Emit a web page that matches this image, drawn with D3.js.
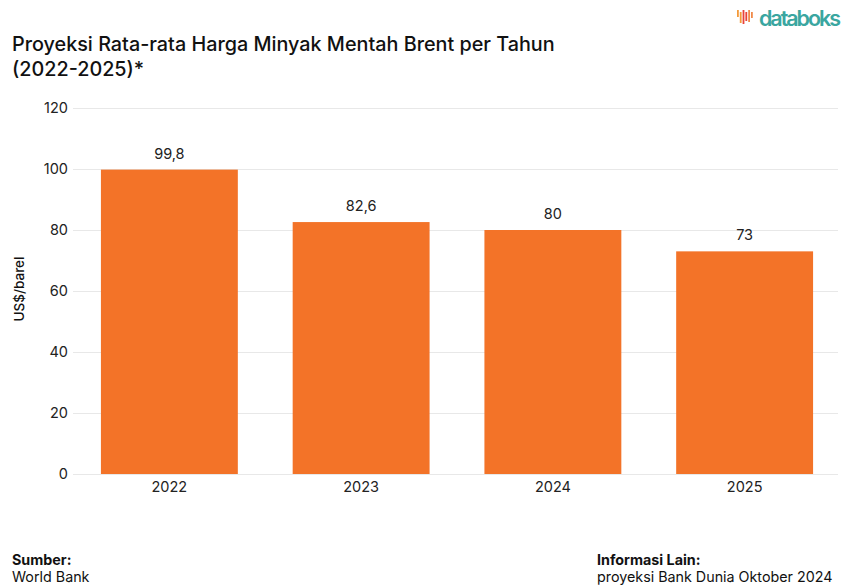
<!DOCTYPE html>
<html>
<head>
<meta charset="utf-8">
<script src="https://cdn.jsdelivr.net/npm/d3@7"></script>
<style>
  body { margin: 0; background: #fff; }
  svg { display: block; font-family: Inter, "Noto Sans", sans-serif; }
</style>
</head>
<body>
<div id="chart"></div>
<script>
(function () {

var years = ['2022', '2023', '2024', '2025'];
var prices = [99.8, 82.6, 80, 73];
var yTicks = [0, 20, 40, 60, 80, 100, 120];
var logoBars = [7, 11, 14, 9, 12, 6];

var width = 844, height = 586;
var margin = {top: 108, right: 3, bottom: 112, left: 73};

var svg = d3.select('#chart')
            .append('svg')
            .attr('width', width)
            .attr('height', height);

var x = d3.scaleBand()
          .domain(years)
          .range([margin.left + 0.5, width - margin.right - 0.5])
          .paddingInner(0.286)
          .paddingOuter(0.143);

var y = d3.scaleLinear()
          .domain([0, 120])
          .range([height - margin.bottom, margin.top]);

// title
svg.append('text')
   .attr('x', 12).attr('y', 51)
   .attr('font-size', 19.8).attr('font-weight', 500).attr('fill', '#111')
   .text('Proyeksi Rata-rata Harga Minyak Mentah Brent per Tahun');
svg.append('text')
   .attr('x', 12).attr('y', 76)
   .attr('font-size', 19.8).attr('font-weight', 500).attr('fill', '#111')
   .text('(2022-2025)*');

// logo
var logo = svg.append('g').attr('transform', 'translate(737,10)');
logo.selectAll('rect')
    .data(logoBars)
    .enter().append('rect')
    .attr('x', function(d, i) { return i * 2.8; })
    .attr('y', function(d, i) { return i % 2 ? 2 : 0; })
    .attr('width', 1.8)
    .attr('height', function(d) { return d; })
    .attr('fill', function(d, i) { return i < 2 ? '#f39a3a' : (i < 4 ? '#e8433a' : '#f08a4a'); });
svg.append('text')
   .attr('x', 759).attr('y', 26)
   .attr('font-size', 21.5).attr('font-weight', 600)
   .attr('fill', '#3aa6a0')
   .attr('textLength', 82)
   .text('databoks');

// grid
svg.append('g')
   .selectAll('line')
   .data(yTicks)
   .enter().append('line')
   .attr('x1', margin.left).attr('x2', width - 6)
   .attr('y1', function(d) { return y(d) + 0.5; })
   .attr('y2', function(d) { return y(d) + 0.5; })
   .attr('stroke', '#e8e8e8');

// y axis
var yAxis = svg.append('g')
   .attr('transform', 'translate(' + margin.left + ',0)')
   .call(d3.axisLeft(y).tickValues(yTicks).tickSize(0).tickPadding(5));
yAxis.select('.domain').remove();
yAxis.selectAll('text')
     .attr('font-size', 14.5).attr('fill', '#222')
     .attr('font-family', 'Inter, sans-serif');

svg.append('text')
   .attr('transform', 'translate(24,' + (y(60) - 2) + ') rotate(-90)')
   .attr('text-anchor', 'middle')
   .attr('font-size', 13.5).attr('font-weight', 500)
   .attr('fill', '#111')
   .text('US$/barel');

// bars
svg.append('g')
   .selectAll('rect')
   .data(prices)
   .enter().append('rect')
   .attr('x', function(d, i) { return x(years[i]); })
   .attr('y', function(d) { return y(d); })
   .attr('width', x.bandwidth())
   .attr('height', function(d) { return y(0) - y(d); })
   .attr('fill', '#f37328');

// value labels
svg.append('g')
   .selectAll('text')
   .data(prices)
   .enter().append('text')
   .attr('x', function(d, i) { return x(years[i]) + x.bandwidth() / 2; })
   .attr('y', function(d) { return y(d) - 11; })
   .attr('text-anchor', 'middle')
   .attr('font-size', 14.5).attr('fill', '#222')
   .text(function(d) { return String(d).replace('.', ','); });

// x axis
var xAxis = svg.append('g')
   .attr('transform', 'translate(0,' + y(0) + ')')
   .call(d3.axisBottom(x).tickSize(0).tickPadding(8));
xAxis.select('.domain').remove();
xAxis.selectAll('text')
     .attr('font-size', 14.5).attr('fill', '#222')
     .attr('font-family', 'Inter, sans-serif');

// footer
var foot = [
  {x: 12, y: 565, w: 700, t: 'Sumber:'},
  {x: 12, y: 582, w: 400, t: 'World Bank'},
  {x: 597, y: 565, w: 700, t: 'Informasi Lain:'},
  {x: 597, y: 582, w: 400, t: 'proyeksi Bank Dunia Oktober 2024'}
];
svg.append('g')
   .selectAll('text')
   .data(foot)
   .enter().append('text')
   .attr('x', function(d) { return d.x; })
   .attr('y', function(d) { return d.y; })
   .attr('font-size', 14.3)
   .attr('font-weight', function(d) { return d.w; })
   .attr('font-family', 'Inter, sans-serif')
   .attr('fill', '#111')
   .text(function(d) { return d.t; });

})();
</script>
</body>
</html>
